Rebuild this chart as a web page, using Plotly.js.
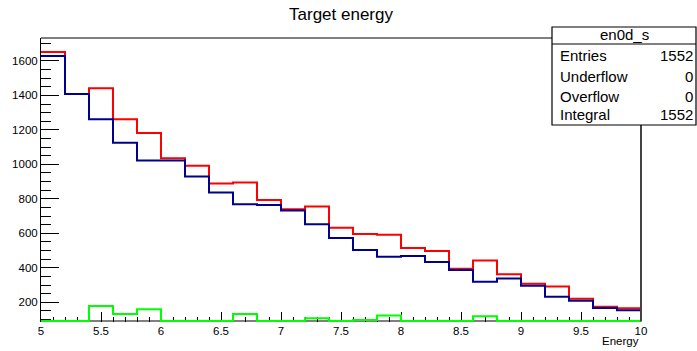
<!DOCTYPE html>
<html>
<head>
<meta charset="utf-8">
<script src="https://cdn.plot.ly/plotly-3.0.1.min.js"></script>
<style>
  html, body { margin: 0; padding: 0; background: #fff; }
  #plot { width: 697px; height: 351px; }
</style>
</head>
<body>
<div id="plot"></div>
<script>
// Histogram binning (25 bins on [5, 10])
const binLow = 5;
const binWidth = 0.2;

// Bin contents per histogram
const redCounts   = [1652, 1408, 1441, 1262, 1182, 1035, 992, 889, 895, 794, 740, 755, 632, 596, 592, 515, 497, 394, 442, 363, 307, 292, 221, 174, 165];
const blueCounts  = [1629, 1408, 1262, 1126, 1023, 1023, 930, 837, 769, 765, 732, 653, 573, 503, 464, 468, 434, 388, 319, 338, 296, 232, 209, 167, 154];
const greenCounts = [0, 0, 179, 132, 159, 0, 0, 0, 132, 0, 0, 107, 0, 97, 124, 0, 0, 0, 119, 0, 0, 0, 0, 0, 0];

// Statistics box contents
const statsName = "en0d_s";
const statsLabels = ["Entries", "Underflow", "Overflow", "Integral"];
const statsValues = ["1552", "0", "0", "1552"];

// Frame minimum: contents below it are drawn on the frame's bottom edge
const frameMin = 91.5;
const yRange = [85.7, 1733];
const W = 697, H = 351;
const M = { l: 41, r: 56, t: 38, b: 29 };
const plotW = W - M.l - M.r, plotH = H - M.t - M.b;

// pixel -> paper helpers for decorations
const px = x => (x - M.l) / plotW;
const py = y => (H - M.b - y) / plotH;

function steps(counts) {
  const xs = [], ys = [];
  for (let i = 0; i <= counts.length; i++) {
    xs.push(binLow + i * binWidth);
    const v = counts[Math.min(i, counts.length - 1)];
    ys.push(Math.max(v, frameMin));
  }
  return { x: xs, y: ys };
}

function histTrace(counts, color) {
  const s = steps(counts);
  return {
    x: s.x, y: s.y, type: 'scatter', mode: 'lines',
    line: { shape: 'hv', color: color, width: 2 },
    hoverinfo: 'skip', showlegend: false
  };
}

const traces = [
  histTrace(redCounts, '#ff0000'),
  histTrace(blueCounts, '#00008f'),
  histTrace(greenCounts, '#00ff00')
];

const font = 'Liberation Sans, Arial, Helvetica, sans-serif';

const shapes = [
  // frame bottom edge, underneath the histograms
  { type: 'line', xref: 'paper', yref: 'paper', layer: 'below', x0: 0, x1: 1, y0: py(321), y1: py(321),
    line: { color: '#000', width: 1.2 } },
  // frame top and right edges
  { type: 'line', xref: 'paper', yref: 'paper', x0: 0, x1: 1, y0: 1, y1: 1,
    line: { color: '#000', width: 1 } },
  { type: 'line', xref: 'paper', yref: 'paper', x0: 1, x1: 1, y0: py(321.5), y1: 1,
    line: { color: '#444', width: 2 } },
  // statistics box
  { type: 'rect', xref: 'paper', yref: 'paper', layer: 'above',
    x0: px(552), x1: px(696), y0: py(125), y1: py(27),
    fillcolor: '#fff', line: { color: '#000', width: 1.2 } },
  { type: 'line', xref: 'paper', yref: 'paper', layer: 'above',
    x0: px(552), x1: px(696), y0: py(44), y1: py(44),
    line: { color: '#000', width: 1 } }
];

const annotations = [
  { text: 'Energy', xref: 'paper', yref: 'paper', x: 1, y: py(340.5),
    xanchor: 'right', yanchor: 'middle', showarrow: false,
    font: { family: font, size: 11.5, color: '#000' } },
  { text: statsName, xref: 'paper', yref: 'paper', x: px(624), y: py(35),
    xanchor: 'center', yanchor: 'middle', showarrow: false,
    font: { family: font, size: 15, color: '#000' } }
];
const rowY = [55, 76, 97, 115];
statsLabels.forEach((lab, i) => {
  annotations.push({ text: lab, xref: 'paper', yref: 'paper', x: px(558), y: py(rowY[i]),
    xanchor: 'left', yanchor: 'middle', showarrow: false,
    font: { family: font, size: 15, color: '#000' } });
  annotations.push({ text: statsValues[i], xref: 'paper', yref: 'paper', x: px(695), y: py(rowY[i]),
    xanchor: 'right', yanchor: 'middle', showarrow: false,
    font: { family: font, size: 15, color: '#000' } });
});

const layout = {
  width: W, height: H,
  margin: M,
  paper_bgcolor: '#fff', plot_bgcolor: 'rgba(0,0,0,0)',
  showlegend: false,
  title: {
    text: 'Target energy', font: { family: font, size: 17, color: '#000' },
    x: 0.5, xref: 'paper', xanchor: 'center',
    y: 1 - 14.5 / H, yref: 'container', yanchor: 'middle'
  },
  xaxis: {
    range: [5, 10], dtick: 0.5, tick0: 5,
    layer: 'below traces',
    showgrid: false, zeroline: false, showline: false,
    ticks: 'inside', ticklen: 10, tickwidth: 1, tickcolor: '#000',
    minor: { dtick: 0.1, ticks: 'inside', ticklen: 5.5, tickwidth: 1, tickcolor: '#000', showgrid: false },
    tickfont: { family: font, size: 11.5, color: '#000' }
  },
  yaxis: {
    range: yRange, dtick: 200, tick0: 0,
    layer: 'below traces',
    showgrid: false, zeroline: false,
    showline: true, linecolor: '#000', linewidth: 1,
    ticks: 'inside', ticklen: 18, tickwidth: 1, tickcolor: '#000',
    minor: { dtick: 50, ticks: 'inside', ticklen: 10, tickwidth: 1, tickcolor: '#000', showgrid: false },
    tickfont: { family: font, size: 11.5, color: '#000' }
  },
  shapes: shapes,
  annotations: annotations
};

Plotly.newPlot('plot', traces, layout, { staticPlot: true, displayModeBar: false });
</script>
</body>
</html>
